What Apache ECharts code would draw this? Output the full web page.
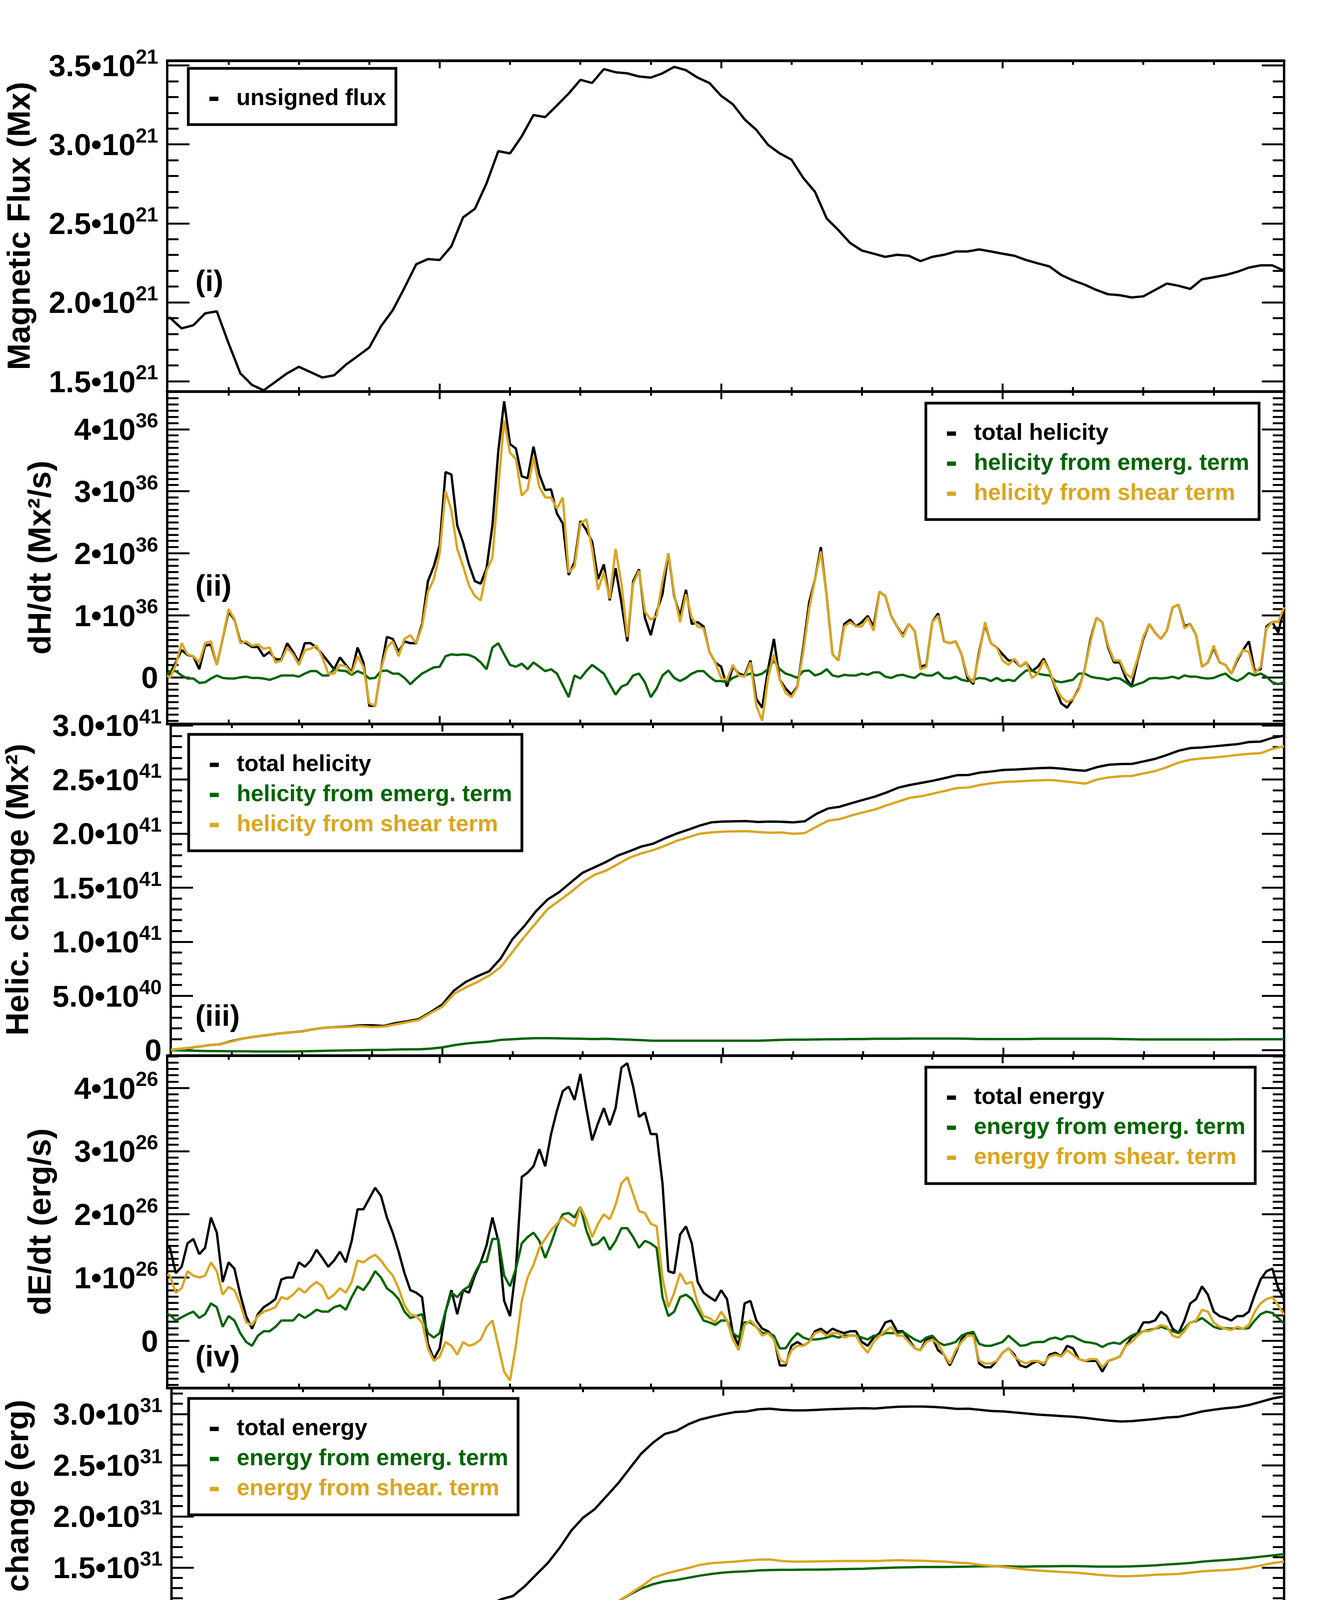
<!DOCTYPE html>
<html>
<head>
    <title>Flux, helicity and energy</title>
    <meta charset="utf-8">
    <script src="https://cdn.jsdelivr.net/npm/echarts@6/dist/echarts.min.js"></script>
    <style>
        html, body { margin: 0; padding: 0; background: #fff; }
        #chart { width: 3425px; height: 4721px; }
    </style>
</head>
<body>
<div id="chart"></div>
<script>
    // x axis is hours since 06-Jan-11 00:00
    var startHour = 0.769;   // 00:46:10
    var endHour = 96;
    var dayTicks = [24, 48, 72, 96];
    var dayLabels = ['07-Jan', '08-Jan', '09-Jan', '10-Jan'];
    var sixHourTicks = [6, 12, 18, 30, 36, 42, 54, 60, 66, 78, 84, 90];

    var hourly = [0.77, 1, 2, 3, 4, 5, 6, 7, 8, 9, 10, 11, 12, 13, 14, 15, 16, 17, 18, 19, 20, 21, 22, 23, 24,
        25, 26, 27, 28, 29, 30, 31, 32, 33, 34, 35, 36, 37, 38, 39, 40, 41, 42, 43, 44, 45, 46, 47, 48,
        49, 50, 51, 52, 53, 54, 55, 56, 57, 58, 59, 60, 61, 62, 63, 64, 65, 66, 67, 68, 69, 70, 71, 72,
        73, 74, 75, 76, 77, 78, 79, 80, 81, 82, 83, 84, 85, 86, 87, 88, 89, 90, 91, 92, 93, 94, 95, 96];

    var halfHourly = [0.77, 1, 1.5, 2, 2.5, 3, 3.5, 4, 4.5, 5, 5.5, 6, 6.5, 7, 7.5, 8, 8.5, 9, 9.5, 10, 10.5,
        11, 11.5, 12, 12.5, 13, 13.5, 14, 14.5, 15, 15.5, 16, 16.5, 17, 17.5, 18, 18.5, 19, 19.5, 20, 20.5,
        21, 21.5, 22, 22.5, 23, 23.5, 24, 24.5, 25, 25.5, 26, 26.5, 27, 27.5, 28, 28.5, 29, 29.5, 30, 30.5,
        31, 31.5, 32, 32.5, 33, 33.5, 34, 34.5, 35, 35.5, 36, 36.5, 37, 37.5, 38, 38.5, 39, 39.5, 40, 40.5,
        41, 41.5, 42, 42.5, 43, 43.5, 44, 44.5, 45, 45.5, 46, 46.5, 47, 47.5, 48, 48.5, 49, 49.5, 50, 50.5,
        51, 51.5, 52, 52.5, 53, 53.5, 54, 54.5, 55, 55.5, 56, 56.5, 57, 57.5, 58, 58.5, 59, 59.5, 60, 60.5,
        61, 61.5, 62, 62.5, 63, 63.5, 64, 64.5, 65, 65.5, 66, 66.5, 67, 67.5, 68, 68.5, 69, 69.5, 70, 70.5,
        71, 71.5, 72, 72.5, 73, 73.5, 74, 74.5, 75, 75.5, 76, 76.5, 77, 77.5, 78, 78.5, 79, 79.5, 80, 80.5,
        81, 81.5, 82, 82.5, 83, 83.5, 84, 84.5, 85, 85.5, 86, 86.5, 87, 87.5, 88, 88.5, 89, 89.5, 90, 90.5,
        91, 91.5, 92, 92.5, 93, 93.5, 94, 94.5, 95, 95.5, 96];

    // (i) unsigned flux, 1e21 Mx
    var flux = [1.896, 1.903, 1.835, 1.855, 1.930, 1.943, 1.741, 1.551, 1.477, 1.443,
        1.497, 1.551, 1.592, 1.558, 1.524, 1.538, 1.605, 1.659, 1.714, 1.849,
        1.950, 2.092, 2.241, 2.274, 2.268, 2.355, 2.538, 2.592, 2.754, 2.957,
        2.943, 3.051, 3.186, 3.173, 3.247, 3.322, 3.409, 3.389, 3.477, 3.457,
        3.450, 3.430, 3.423, 3.450, 3.491, 3.470, 3.423, 3.389, 3.308, 3.254,
        3.159, 3.092, 2.997, 2.943, 2.903, 2.788, 2.700, 2.531, 2.457, 2.376,
        2.328, 2.308, 2.288, 2.301, 2.295, 2.261, 2.288, 2.301, 2.322, 2.322,
        2.335, 2.322, 2.308, 2.295, 2.268, 2.247, 2.227, 2.173, 2.139, 2.112,
        2.078, 2.051, 2.045, 2.031, 2.038, 2.078, 2.119, 2.105, 2.085, 2.146,
        2.159, 2.173, 2.193, 2.220, 2.234, 2.234, 2.200];

    // (ii) dH/dt, 1e36 Mx^2/s
    var dhTotal = [0.03,
        0.06, 0.24, 0.44, 0.36, 0.34, 0.13, 0.51, 0.53, 0.20, 0.62,
        1.06, 0.93, 0.58, 0.55, 0.49, 0.49, 0.34, 0.41, 0.29, 0.29,
        0.55, 0.41, 0.24, 0.55, 0.55, 0.48, 0.37, 0.25, 0.13, 0.32,
        0.20, 0.08, 0.48, 0.24, -0.46, -0.46, 0.13, 0.65, 0.62, 0.41,
        0.58, 0.55, 0.55, 0.86, 1.55, 1.79, 2.13, 3.31, 3.27, 2.45,
        2.17, 1.82, 1.55, 1.51, 1.76, 2.45, 3.65, 4.45, 3.76, 3.69,
        3.24, 3.21, 3.72, 3.27, 3.02, 3.03, 2.64, 2.48, 1.65, 1.86,
        2.52, 2.38, 2.19, 1.58, 1.82, 1.24, 1.76, 1.20, 0.58, 1.55,
        1.74, 0.96, 0.68, 1.06, 1.34, 2.00, 1.31, 0.99, 1.41, 0.86,
        0.89, 0.82, 0.41, 0.24, 0.17, -0.15, 0.17, 0.06, 0.03, 0.27,
        -0.35, -0.49, 0.13, 0.62, -0.04, -0.18, -0.28, -0.15, 0.48, 1.20,
        1.58, 2.10, 1.31, 0.37, 0.27, 0.86, 0.93, 0.82, 0.89, 0.99,
        0.82, 1.38, 1.31, 0.99, 0.82, 0.68, 0.86, 0.75, 0.17, 0.20,
        0.89, 1.03, 0.58, 0.55, 0.58, 0.37, -0.01, -0.11, 0.41, 0.86,
        0.55, 0.48, 0.37, 0.27, 0.27, 0.17, 0.24, 0.10, 0.17, 0.30,
        0.10, -0.18, -0.42, -0.49, -0.35, -0.18, 0.13, 0.62, 0.96, 0.89,
        0.48, 0.24, 0.24, -0.01, -0.15, 0.27, 0.62, 0.86, 0.72, 0.62,
        0.75, 1.13, 1.17, 0.82, 0.86, 0.68, 0.17, 0.24, 0.48, 0.24,
        0.20, 0.06, 0.27, 0.44, 0.58, 0.10, 0.13, 0.82, 0.89, 0.72,
        1.13];
    var dhEmerg = [0.04,
        0.10, 0.10, 0.03, -0.02, -0.02, -0.09, -0.08, -0.02, 0.03, -0.01,
        -0.02, -0.02, 0.00, 0.01, -0.01, -0.01, -0.02, -0.04, -0.01, 0.03,
        0.03, 0.03, 0.01, 0.06, 0.10, 0.10, 0.03, 0.03, 0.13, 0.11,
        0.10, 0.04, 0.10, 0.06, -0.02, -0.01, 0.10, 0.11, 0.06, 0.06,
        -0.01, -0.11, -0.02, 0.06, 0.11, 0.16, 0.17, 0.34, 0.37, 0.36,
        0.37, 0.36, 0.32, 0.24, 0.13, 0.48, 0.55, 0.37, 0.20, 0.17,
        0.22, 0.13, 0.24, 0.17, 0.10, 0.13, 0.06, -0.13, -0.32, 0.03,
        -0.02, 0.10, 0.20, 0.13, 0.06, -0.11, -0.28, -0.15, -0.11, 0.03,
        0.06, -0.08, -0.32, -0.18, 0.03, 0.11, -0.01, -0.06, -0.01, 0.06,
        0.10, 0.10, 0.01, -0.06, -0.06, -0.08, -0.01, 0.03, 0.03, 0.06,
        0.03, 0.06, 0.13, 0.27, 0.13, 0.06, 0.03, -0.01, 0.10, 0.11,
        0.03, 0.06, 0.13, 0.03, 0.01, 0.04, 0.03, 0.03, 0.06, 0.04,
        0.08, 0.08, 0.01, -0.01, 0.03, 0.04, 0.01, -0.01, 0.06, 0.03,
        0.03, 0.08, -0.01, -0.02, 0.01, -0.04, -0.06, -0.04, -0.01, -0.02,
        -0.06, -0.01, -0.06, -0.04, -0.06, 0.03, 0.11, 0.11, 0.06, 0.04,
        0.03, -0.06, -0.08, -0.06, -0.04, 0.06, 0.06, 0.01, -0.01, -0.02,
        -0.04, -0.01, -0.02, -0.08, -0.15, -0.11, -0.08, -0.02, -0.01, -0.02,
        -0.01, 0.01, -0.02, 0.03, 0.01, 0.01, -0.01, -0.02, -0.01, 0.03,
        0.06, -0.02, -0.06, -0.01, 0.07, 0.03, 0.06, 0.01, -0.08, -0.11,
        -0.08];
    var dhShear = [0.03,
        -0.01, 0.20, 0.55, 0.37, 0.34, 0.24, 0.55, 0.58, 0.20, 0.62,
        1.10, 0.94, 0.55, 0.58, 0.51, 0.53, 0.46, 0.48, 0.24, 0.27,
        0.48, 0.37, 0.20, 0.44, 0.46, 0.51, 0.32, 0.06, 0.06, 0.20,
        0.18, 0.06, 0.34, 0.17, -0.42, -0.46, 0.13, 0.48, 0.58, 0.34,
        0.62, 0.68, 0.55, 0.82, 1.38, 1.58, 2.00, 3.00, 2.69, 2.07,
        1.79, 1.48, 1.31, 1.24, 1.72, 1.93, 3.07, 4.14, 3.62, 3.52,
        2.93, 3.03, 3.55, 3.07, 2.90, 2.90, 2.72, 2.90, 1.69, 1.79,
        2.48, 2.55, 2.07, 1.41, 1.69, 1.27, 2.07, 1.51, 0.65, 1.51,
        1.72, 1.06, 0.93, 0.99, 1.55, 2.00, 1.34, 0.89, 1.34, 0.96,
        0.82, 0.79, 0.41, 0.24, -0.01, -0.04, 0.20, 0.03, 0.01, 0.24,
        -0.46, -0.70, -0.01, 0.37, -0.04, -0.25, -0.32, -0.16, 0.41, 1.10,
        1.58, 2.03, 1.31, 0.37, 0.27, 0.82, 0.89, 0.82, 0.82, 0.96,
        0.75, 1.38, 1.31, 0.99, 0.82, 0.65, 0.86, 0.75, 0.13, 0.17,
        0.89, 0.99, 0.58, 0.55, 0.58, 0.37, 0.03, -0.08, 0.37, 0.89,
        0.55, 0.48, 0.27, 0.20, 0.30, 0.17, 0.25, -0.01, 0.06, 0.27,
        0.10, -0.15, -0.32, -0.40, -0.35, -0.20, 0.13, 0.58, 0.96, 0.89,
        0.51, 0.27, 0.27, 0.06, -0.01, 0.30, 0.65, 0.86, 0.72, 0.62,
        0.75, 1.13, 1.17, 0.79, 0.86, 0.68, 0.17, 0.24, 0.51, 0.24,
        0.20, 0.06, 0.30, 0.44, 0.41, 0.06, 0.17, 0.79, 0.89, 0.89,
        1.13];

    // (iii) helicity change, 1e41 Mx^2
    var hcTotal = [0, 0.004, 0.014, 0.028, 0.044, 0.053, 0.083, 0.107, 0.123, 0.137,
        0.152, 0.162, 0.172, 0.192, 0.206, 0.212, 0.216, 0.228, 0.228, 0.222,
        0.248, 0.265, 0.285, 0.350, 0.420, 0.549, 0.628, 0.681, 0.727, 0.846,
        1.024, 1.143, 1.281, 1.390, 1.459, 1.549, 1.638, 1.687, 1.737, 1.796,
        1.836, 1.879, 1.905, 1.954, 1.998, 2.034, 2.073, 2.103, 2.111, 2.113,
        2.115, 2.107, 2.111, 2.109, 2.103, 2.113, 2.182, 2.232, 2.248, 2.281,
        2.311, 2.341, 2.380, 2.424, 2.449, 2.469, 2.489, 2.513, 2.539, 2.541,
        2.564, 2.574, 2.588, 2.592, 2.598, 2.604, 2.608, 2.600, 2.588, 2.580,
        2.614, 2.636, 2.642, 2.644, 2.667, 2.691, 2.727, 2.766, 2.790, 2.796,
        2.806, 2.816, 2.826, 2.846, 2.850, 2.885, 2.905];
    var hcEmerg = [0, -0.002, -0.006, -0.008, -0.010, -0.010, -0.012, -0.012, -0.014, -0.014,
        -0.014, -0.014, -0.012, -0.010, -0.008, -0.006, -0.004, -0.002, 0, 0,
        0.004, 0.006, 0.006, 0.012, 0.024, 0.044, 0.059, 0.069, 0.077, 0.093,
        0.099, 0.105, 0.109, 0.109, 0.107, 0.105, 0.103, 0.101, 0.103, 0.099,
        0.095, 0.091, 0.085, 0.085, 0.085, 0.085, 0.085, 0.085, 0.085, 0.085,
        0.085, 0.085, 0.089, 0.093, 0.095, 0.095, 0.097, 0.099, 0.099, 0.101,
        0.101, 0.103, 0.103, 0.103, 0.105, 0.105, 0.105, 0.105, 0.105, 0.103,
        0.101, 0.101, 0.101, 0.101, 0.101, 0.103, 0.103, 0.103, 0.103, 0.103,
        0.103, 0.103, 0.101, 0.099, 0.097, 0.097, 0.097, 0.097, 0.097, 0.097,
        0.097, 0.097, 0.099, 0.099, 0.099, 0.099, 0.099];
    var hcShear = [0, 0.004, 0.014, 0.028, 0.044, 0.053, 0.079, 0.107, 0.123, 0.137,
        0.152, 0.162, 0.172, 0.192, 0.206, 0.210, 0.212, 0.220, 0.212, 0.216,
        0.236, 0.257, 0.277, 0.341, 0.400, 0.519, 0.578, 0.628, 0.687, 0.766,
        0.905, 1.044, 1.172, 1.301, 1.380, 1.459, 1.549, 1.618, 1.657, 1.717,
        1.776, 1.816, 1.846, 1.885, 1.931, 1.964, 1.998, 2.010, 2.018, 2.020,
        2.022, 2.014, 2.008, 2.010, 1.998, 2.004, 2.063, 2.119, 2.133, 2.168,
        2.196, 2.222, 2.261, 2.295, 2.331, 2.345, 2.370, 2.394, 2.420, 2.426,
        2.449, 2.465, 2.477, 2.481, 2.487, 2.491, 2.495, 2.485, 2.473, 2.461,
        2.499, 2.519, 2.529, 2.533, 2.556, 2.578, 2.614, 2.657, 2.683, 2.695,
        2.703, 2.713, 2.727, 2.737, 2.743, 2.782, 2.806];

    // (iv) dE/dt, 1e26 erg/s
    var deTotal = [1.51,
        1.47, 1.07, 1.17, 1.54, 1.61, 1.37, 1.47, 1.95, 1.71, 0.93,
        1.24, 1.14, 0.73, 0.39, 0.19, 0.42, 0.53, 0.59, 0.66, 0.97,
        1.00, 1.00, 1.24, 1.17, 1.27, 1.44, 1.31, 1.17, 1.27, 1.41,
        1.24, 1.58, 2.08, 2.08, 2.25, 2.42, 2.29, 1.95, 1.71, 1.41,
        1.07, 0.80, 0.76, 0.69, -0.05, -0.29, -0.12, 0.46, 0.80, 0.42,
        0.80, 0.76, 1.03, 1.24, 1.51, 1.95, 1.58, 0.63, 0.39, 1.14,
        2.59, 2.66, 2.76, 3.03, 2.76, 3.27, 3.64, 3.95, 4.02, 3.81,
        4.22, 3.68, 3.17, 3.44, 3.68, 3.41, 3.68, 4.32, 4.39, 4.02,
        3.54, 3.61, 3.27, 3.27, 2.49, 1.10, 1.07, 1.68, 1.81, 1.54,
        0.93, 0.76, 0.69, 0.63, 0.80, 0.66, 0.12, -0.08, 0.59, 0.63,
        0.32, 0.19, 0.15, 0.05, -0.39, -0.39, -0.08, -0.02, -0.08, -0.02,
        0.15, 0.19, 0.12, 0.19, 0.15, 0.12, 0.15, 0.15, -0.02, -0.08,
        0.05, 0.12, 0.29, 0.32, 0.15, 0.15, 0.02, -0.12, -0.15, 0.02,
        0.05, -0.15, -0.22, -0.39, -0.19, 0.02, 0.12, 0.12, -0.36, -0.42,
        -0.42, -0.32, -0.19, -0.12, -0.22, -0.39, -0.42, -0.36, -0.32, -0.39,
        -0.22, -0.19, -0.25, -0.08, -0.12, -0.29, -0.32, -0.32, -0.32, -0.49,
        -0.32, -0.29, -0.25, -0.08, 0.05, 0.12, 0.29, 0.29, 0.32, 0.46,
        0.39, 0.19, 0.12, 0.32, 0.59, 0.66, 0.86, 0.73, 0.46, 0.39,
        0.36, 0.32, 0.39, 0.39, 0.46, 0.73, 0.97, 1.10, 1.14, 0.83,
        0.66];
    var deEmerg = [0.42,
        0.41, 0.32, 0.37, 0.42, 0.46, 0.36, 0.42, 0.59, 0.53, 0.22,
        0.39, 0.32, 0.12, -0.02, -0.08, 0.08, 0.15, 0.15, 0.22, 0.32,
        0.32, 0.32, 0.42, 0.36, 0.42, 0.49, 0.46, 0.46, 0.53, 0.56,
        0.49, 0.69, 0.86, 0.80, 0.93, 1.10, 1.00, 0.83, 0.76, 0.66,
        0.46, 0.36, 0.39, 0.42, 0.12, 0.05, 0.12, 0.46, 0.76, 0.69,
        0.80, 0.86, 1.07, 1.24, 1.25, 1.61, 1.61, 1.03, 0.86, 1.14,
        1.54, 1.64, 1.71, 1.58, 1.31, 1.54, 1.81, 2.00, 2.02, 1.95,
        2.12, 1.75, 1.51, 1.54, 1.64, 1.44, 1.58, 1.78, 1.78, 1.64,
        1.47, 1.58, 1.54, 1.47, 0.69, 0.39, 0.46, 0.69, 0.73, 0.66,
        0.49, 0.32, 0.29, 0.25, 0.32, 0.32, 0.12, 0.05, 0.29, 0.29,
        0.22, 0.12, 0.12, 0.08, -0.12, -0.12, 0.02, 0.12, 0.05, 0.02,
        0.02, 0.03, 0.05, 0.08, 0.05, 0.08, 0.08, 0.08, 0.05, 0.02,
        0.08, 0.08, 0.12, 0.12, 0.12, 0.14, 0.08, 0.02, -0.02, 0.05,
        0.08, -0.02, -0.07, -0.05, -0.02, 0.08, 0.12, 0.14, -0.05, -0.08,
        -0.08, -0.05, -0.02, 0.08, 0.00, -0.08, -0.07, -0.03, -0.02, -0.02,
        0.03, 0.05, 0.02, 0.07, 0.07, 0.02, -0.02, -0.03, -0.05, -0.10,
        -0.05, -0.03, -0.05, 0.02, 0.08, 0.12, 0.15, 0.17, 0.19, 0.22,
        0.19, 0.15, 0.12, 0.19, 0.29, 0.31, 0.36, 0.29, 0.22, 0.19,
        0.20, 0.19, 0.20, 0.19, 0.20, 0.32, 0.42, 0.46, 0.44, 0.36,
        0.27];
    var deShear = [1.05,
        1.03, 0.76, 0.83, 1.10, 1.03, 1.00, 1.03, 1.24, 1.10, 0.73,
        0.85, 0.80, 0.58, 0.29, 0.25, 0.39, 0.46, 0.49, 0.53, 0.69,
        0.66, 0.73, 0.83, 0.76, 0.86, 0.93, 0.86, 0.66, 0.73, 0.83,
        0.76, 0.93, 1.27, 1.24, 1.31, 1.36, 1.27, 1.14, 1.03, 0.83,
        0.56, 0.42, 0.39, 0.29, -0.12, -0.32, -0.25, -0.02, -0.08, -0.22,
        -0.02, -0.08, -0.05, 0.02, 0.22, 0.32, -0.08, -0.49, -0.63, -0.08,
        0.63, 1.00, 1.20, 1.47, 1.61, 1.75, 1.85, 1.95, 1.88, 1.81,
        2.12, 1.92, 1.64, 1.85, 2.00, 1.92, 2.15, 2.49, 2.59, 2.32,
        2.05, 2.02, 1.85, 1.81, 1.00, 0.53, 0.76, 1.07, 0.90, 0.93,
        0.59, 0.39, 0.36, 0.29, 0.46, 0.32, 0.02, -0.15, 0.25, 0.32,
        0.22, 0.08, 0.12, 0.02, -0.29, -0.36, -0.15, -0.08, -0.08, -0.02,
        0.12, 0.15, 0.08, 0.12, 0.12, 0.05, 0.08, 0.08, -0.08, -0.19,
        -0.02, 0.08, 0.15, 0.22, 0.08, 0.08, -0.02, -0.12, -0.15, -0.02,
        0.02, -0.05, -0.22, -0.36, -0.15, -0.02, 0.08, 0.08, -0.32, -0.36,
        -0.36, -0.32, -0.19, -0.12, -0.25, -0.32, -0.36, -0.32, -0.32, -0.36,
        -0.25, -0.22, -0.25, -0.15, -0.22, -0.29, -0.32, -0.29, -0.29, -0.42,
        -0.32, -0.29, -0.25, -0.08, -0.02, 0.08, 0.15, 0.15, 0.19, 0.25,
        0.22, 0.08, 0.05, 0.15, 0.29, 0.32, 0.49, 0.46, 0.29, 0.22,
        0.19, 0.17, 0.22, 0.19, 0.25, 0.46, 0.59, 0.66, 0.69, 0.56,
        0.41];

    // (v) energy change, 1e31 erg
    var ecTotal = [0.006, 0.027, 0.090, 0.164, 0.216, 0.247, 0.289, 0.317, 0.327, 0.346,
        0.373, 0.405, 0.447, 0.493, 0.545, 0.593, 0.646, 0.709, 0.792, 0.876,
        0.945, 0.981, 1.002, 1.006, 0.998, 1.027, 1.055, 1.086, 1.138, 1.191,
        1.222, 1.317, 1.432, 1.547, 1.694, 1.862, 1.987, 2.071, 2.197, 2.323,
        2.470, 2.616, 2.721, 2.805, 2.836, 2.899, 2.945, 2.973, 2.998, 3.019,
        3.025, 3.046, 3.052, 3.040, 3.036, 3.036, 3.040, 3.046, 3.050, 3.054,
        3.057, 3.054, 3.063, 3.071, 3.073, 3.073, 3.069, 3.061, 3.050, 3.052,
        3.040, 3.029, 3.025, 3.015, 3.004, 2.994, 2.987, 2.979, 2.973, 2.962,
        2.948, 2.935, 2.927, 2.931, 2.941, 2.952, 2.966, 2.973, 2.998, 3.025,
        3.042, 3.057, 3.067, 3.088, 3.119, 3.151, 3.172];
    var ecEmerg = [0.006, 0.010, 0.027, 0.048, 0.063, 0.075, 0.086, 0.090, 0.090, 0.092,
        0.101, 0.109, 0.122, 0.134, 0.149, 0.168, 0.189, 0.216, 0.252, 0.289,
        0.321, 0.342, 0.352, 0.363, 0.369, 0.394, 0.426, 0.461, 0.503, 0.562,
        0.604, 0.656, 0.730, 0.782, 0.839, 0.908, 0.992, 1.055, 1.117, 1.170,
        1.237, 1.296, 1.338, 1.365, 1.379, 1.400, 1.421, 1.438, 1.451, 1.459,
        1.463, 1.472, 1.476, 1.478, 1.478, 1.480, 1.480, 1.482, 1.484, 1.486,
        1.488, 1.493, 1.497, 1.501, 1.503, 1.505, 1.505, 1.505, 1.507, 1.509,
        1.512, 1.514, 1.512, 1.509, 1.509, 1.512, 1.512, 1.514, 1.514, 1.512,
        1.509, 1.509, 1.509, 1.512, 1.516, 1.522, 1.530, 1.537, 1.545, 1.558,
        1.566, 1.574, 1.583, 1.593, 1.606, 1.618, 1.631];
    var ecShear = [0.006, 0.021, 0.069, 0.132, 0.168, 0.195, 0.222, 0.231, 0.243, 0.254,
        0.273, 0.294, 0.331, 0.363, 0.400, 0.430, 0.457, 0.499, 0.547, 0.593,
        0.621, 0.639, 0.646, 0.635, 0.625, 0.625, 0.621, 0.621, 0.629, 0.629,
        0.608, 0.635, 0.683, 0.751, 0.813, 0.887, 0.960, 1.034, 1.107, 1.170,
        1.243, 1.317, 1.400, 1.438, 1.468, 1.495, 1.526, 1.543, 1.551, 1.558,
        1.568, 1.577, 1.579, 1.564, 1.558, 1.558, 1.560, 1.562, 1.564, 1.564,
        1.564, 1.564, 1.568, 1.572, 1.568, 1.566, 1.562, 1.558, 1.547, 1.543,
        1.526, 1.516, 1.505, 1.493, 1.480, 1.470, 1.463, 1.457, 1.451, 1.442,
        1.430, 1.421, 1.415, 1.417, 1.421, 1.430, 1.434, 1.438, 1.451, 1.463,
        1.470, 1.476, 1.484, 1.499, 1.520, 1.543, 1.558];

    // y tick labels: [mantissa, exponent]
    var fluxTicks = [1.5, 2.0, 2.5, 3.0, 3.5];
    var fluxLabels = [['1.5•10', '21'], ['2.0•10', '21'], ['2.5•10', '21'], ['3.0•10', '21'], ['3.5•10', '21']];
    var dhTicks = [0, 1, 2, 3, 4];
    var dhLabels = [['0', ''], ['1•10', '36'], ['2•10', '36'], ['3•10', '36'], ['4•10', '36']];
    var hcTicks = [0, 0.5, 1.0, 1.5, 2.0, 2.5, 3.0];
    var hcLabels = [['0', ''], ['5.0•10', '40'], ['1.0•10', '41'], ['1.5•10', '41'], ['2.0•10', '41'],
        ['2.5•10', '41'], ['3.0•10', '41']];
    var deTicks = [0, 1, 2, 3, 4];
    var deLabels = [['0', ''], ['1•10', '26'], ['2•10', '26'], ['3•10', '26'], ['4•10', '26']];
    var ecTicks = [0.5, 1.0, 1.5, 2.0, 2.5, 3.0];
    var ecLabels = [['5.0•10', '30'], ['1.0•10', '31'], ['1.5•10', '31'], ['2.0•10', '31'], ['2.5•10', '31'],
        ['3.0•10', '31']];

    var FONT = 'Liberation Sans, Arial, Helvetica, sans-serif';
    var BLACK = '#000000', GREEN = '#006400', GOLD = '#DAA520';

    var panels = [
        {top: 155, height: 847, min: 1.436, max: 3.531, ticks: fluxTicks, labels: fluxLabels,
            name: 'Magnetic Flux (Mx)', nameGap: 334, tag: '(i)', tagTop: 686,
            legend: [482, 175], lines: [['unsigned flux', hourly, flux, BLACK]]},
        {top: 1002, height: 851, min: -0.75, max: 4.61, ticks: dhTicks, labels: dhLabels,
            name: 'dH/dt (Mx²/s)', nameGap: 281, tag: '(ii)', tagTop: 1466,
            legend: [2370, 1032], lines: [['total helicity', halfHourly, dhTotal, BLACK],
                ['helicity from emerg. term', halfHourly, dhEmerg, GREEN],
                ['helicity from shear term', halfHourly, dhShear, GOLD]]},
        {top: 1853, height: 849, min: -0.051, max: 3.014, ticks: hcTicks, labels: hcLabels,
            name: 'Helic. change (Mx²)', nameGap: 347, tag: '(iii)', tagTop: 2567,
            legend: [483, 1880], lines: [['total helicity', hourly, hcTotal, BLACK],
                ['helicity from emerg. term', hourly, hcEmerg, GREEN],
                ['helicity from shear term', hourly, hcShear, GOLD]]},
        {top: 2702, height: 851, min: -0.746, max: 4.513, ticks: deTicks, labels: deLabels,
            name: 'dE/dt (erg/s)', nameGap: 281, tag: '(iv)', tagTop: 3439,
            legend: [2370, 2732], lines: [['total energy', halfHourly, deTotal, BLACK],
                ['energy from emerg. term', halfHourly, deEmerg, GREEN],
                ['energy from shear. term', halfHourly, deShear, GOLD]]},
        {top: 3553, height: 853, min: 0, max: 3.255, ticks: ecTicks, labels: ecLabels,
            name: 'Energy change (erg)', nameGap: 349, tag: '(v)', tagTop: 4229,
            legend: [483, 3580], lines: [['total energy', hourly, ecTotal, BLACK],
                ['energy from emerg. term', hourly, ecEmerg, GREEN],
                ['energy from shear. term', hourly, ecShear, GOLD]]}
    ];

    function tenths(min, max) {
        var out = [];
        for (var k = Math.ceil(min * 10 - 1e-6); k <= Math.floor(max * 10 + 1e-6); k++) out.push(k / 10);
        return out;
    }

    function yFormatter(ticks, labels) {
        return function (v) {
            for (var i = 0; i < ticks.length; i++) {
                if (Math.abs(ticks[i] - v) < 1e-6) {
                    var l = labels[i];
                    return l[1] ? '{m|' + l[0] + '}{s|' + l[1] + '}' : '{m|' + l[0] + '}';
                }
            }
            return '';
        };
    }

    var labelRich = {
        m: {fontSize: 78, fontWeight: 'bold', fontFamily: FONT, color: '#000', lineHeight: 90, verticalAlign: 'bottom'},
        s: {fontSize: 52, fontWeight: 'bold', fontFamily: FONT, color: '#000', lineHeight: 40, verticalAlign: 'top'}
    };

    var grid = [], xAxis = [], yAxis = [], series = [], legend = [], graphic = [];

    panels.forEach(function (p, g) {
        var last = g === panels.length - 1;
        grid.push({left: 428, top: p.top, width: 2859, height: p.height});

        ['bottom', 'top'].forEach(function (pos) {
            xAxis.push({
                type: 'value', gridIndex: g, position: pos, min: startHour, max: endHour,
                axisLine: {show: true, onZero: false, lineStyle: {color: '#000', width: 7}},
                axisTick: {show: true, inside: true, length: 20, customValues: dayTicks,
                    lineStyle: {color: '#000', width: 5}},
                axisLabel: {show: last && pos === 'bottom', customValues: dayTicks, margin: 32,
                    fontSize: 84, fontWeight: 'bold', fontFamily: FONT, color: '#000',
                    showMinLabel: true, showMaxLabel: true,
                    formatter: function (v) { return dayLabels[dayTicks.indexOf(Math.round(v))] || ''; }},
                splitLine: {show: false},
                name: (last && pos === 'bottom') ? 'Start Time (06-Jan-11 00:46:10)' : '',
                nameLocation: 'middle', nameGap: 120,
                nameTextStyle: {fontSize: 84, fontWeight: 'bold', fontFamily: FONT, color: '#000'}
            });
            xAxis.push({
                type: 'value', gridIndex: g, position: pos, min: startHour, max: endHour,
                axisLine: {show: false, onZero: false},
                axisTick: {show: true, inside: true, length: 11, customValues: sixHourTicks,
                    lineStyle: {color: '#000', width: 5}},
                axisLabel: {show: false},
                splitLine: {show: false}
            });
        });

        ['left', 'right'].forEach(function (pos) {
            var isLeft = pos === 'left';
            yAxis.push({
                type: 'value', gridIndex: g, position: pos, min: p.min, max: p.max,
                axisLine: {show: true, onZero: false, lineStyle: {color: '#000', width: 6}},
                axisTick: {show: true, inside: true, length: 57, customValues: p.ticks,
                    lineStyle: {color: '#000', width: 5}},
                axisLabel: {show: isLeft, customValues: p.ticks, margin: 23,
                    formatter: yFormatter(p.ticks, p.labels), rich: labelRich},
                splitLine: {show: false},
                name: isLeft ? p.name : '', nameLocation: 'middle', nameRotate: 90, nameGap: p.nameGap,
                nameTextStyle: {fontSize: 82, fontWeight: 'bold', fontFamily: FONT, color: '#000'}
            });
            yAxis.push({
                type: 'value', gridIndex: g, position: pos, min: p.min, max: p.max,
                axisLine: {show: false, onZero: false},
                axisTick: {show: true, inside: true, length: 29, customValues: tenths(p.min, p.max),
                    lineStyle: {color: '#000', width: 5}},
                axisLabel: {show: false},
                splitLine: {show: false}
            });
        });

        p.lines.forEach(function (ln) {
            series.push({
                type: 'line', name: ln[0], xAxisIndex: g * 4, yAxisIndex: g * 4,
                data: ln[1].map(function (h, i) { return [h, ln[2][i]]; }),
                showSymbol: false, symbol: 'none', color: ln[3],
                lineStyle: {color: ln[3], width: 6}, itemStyle: {color: ln[3]},
                animation: false
            });
        });

        legend.push({
            orient: 'vertical', left: p.legend[0], top: p.legend[1], selectedMode: false,
            icon: 'rect', itemWidth: 23, itemHeight: 11, itemGap: 11,
            padding: [45, 25, 33, 54], borderColor: '#000', borderWidth: 7, backgroundColor: '#fff',
            textStyle: {fontSize: 59, fontWeight: 'bold', fontFamily: FONT, lineHeight: 66, padding: [0, 0, 0, 41]},
            data: p.lines.map(function (ln) { return {name: ln[0], textStyle: {color: ln[3]}}; })
        });

        graphic.push({
            type: 'text', left: 500, top: p.tagTop,
            style: {text: p.tag, font: 'bold 76px ' + FONT, fill: '#000'}
        });
    });

    var chart = echarts.init(document.getElementById('chart'));
    chart.setOption({
        backgroundColor: '#fff',
        animation: false,
        textStyle: {fontFamily: FONT},
        grid: grid,
        xAxis: xAxis,
        yAxis: yAxis,
        legend: legend,
        graphic: graphic,
        series: series
    });
</script>
</body>
</html>
